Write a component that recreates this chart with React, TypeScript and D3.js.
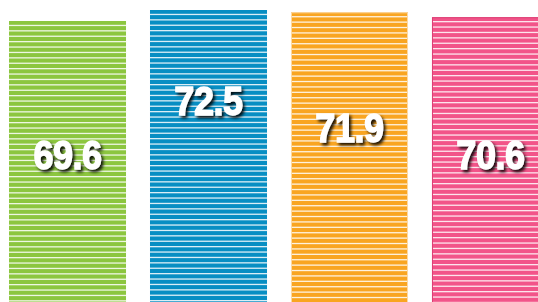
import { useEffect, useRef } from "react";
import * as d3 from "d3";

// ── Data ─────────────────────────────────────────────────────
const categories = ["A", "B", "C", "D"];
const values = [69.6, 72.5, 71.9, 70.6];
const colors = ["#8cc63f", "#078ec3", "#f9a521", "#f25489"];
const edgeColors = [null, null, "#fdd9a3", "#dc3f74"];

// label baselines (layout, not data)
const labelY = [169, 115, 142, 169];

const W = 538;
const H = 302;

export default function App() {
  const svgRef = useRef<SVGSVGElement>(null);

  useEffect(() => {
    if (!svgRef.current) return;
    const svg = d3.select(svgRef.current);
    svg.selectAll("*").remove();

    const x = d3.scaleBand<string>()
      .domain(categories)
      .range([9, 549])
      .paddingInner(0.17)
      .paddingOuter(0);

    // bars run off the bottom of the frame; y(0) sits below the visible area
    const y = d3.scaleLinear().domain([69.6, 72.5]).range([21, 10]);

    const defs = svg.append("defs");
    const f = defs.append("filter").attr("id", "shadow")
      .attr("x", "-20%").attr("y", "-20%").attr("width", "150%").attr("height", "150%");
    f.append("feDropShadow")
      .attr("dx", 2.5).attr("dy", 2.5)
      .attr("stdDeviation", 1.5)
      .attr("flood-color", "#000")
      .attr("flood-opacity", 0.9);

    const stripe = 5.4;

    categories.forEach((c, i) => {
      const bx = x(c)!;
      const bw = x.bandwidth();
      const top = y(values[i]);
      const g = svg.append("g");

      g.append("rect")
        .attr("x", bx).attr("y", top)
        .attr("width", bw).attr("height", H - top)
        .attr("fill", colors[i]);

      // horizontal white stripes
      d3.range(top + 3.8, H, stripe).forEach((sy) => {
        g.append("rect")
          .attr("x", bx).attr("y", sy)
          .attr("width", bw).attr("height", 1.3)
          .attr("fill", "#fff")
          .attr("opacity", 0.85);
      });

      if (edgeColors[i]) {
        g.append("rect")
          .attr("x", bx + 0.5).attr("y", top + 0.5)
          .attr("width", bw - 1).attr("height", H - top)
          .attr("fill", "none")
          .attr("stroke", edgeColors[i]!)
          .attr("stroke-width", 1);
      }

      const cx = bx + bw / 2;
      g.append("text")
        .attr("transform", `translate(${cx},${labelY[i]}) scale(0.9,1)`)
        .attr("text-anchor", "middle")
        .attr("font-family", "'Liberation Sans', Arial, sans-serif")
        .attr("font-weight", "bold")
        .attr("font-size", 40)
        .attr("letter-spacing", -0.5)
        .attr("fill", "#fff")
        .attr("stroke", "#fff")
        .attr("stroke-width", 1.3)
        .attr("filter", "url(#shadow)")
        .text(values[i].toFixed(1));
    });
  }, []);

  return (
    <svg
      ref={svgRef}
      width={W}
      height={H}
      viewBox={`0 0 ${W} ${H}`}
      style={{ position: "absolute", left: 0, top: 0, background: "#fff" }}
    />
  );
}
